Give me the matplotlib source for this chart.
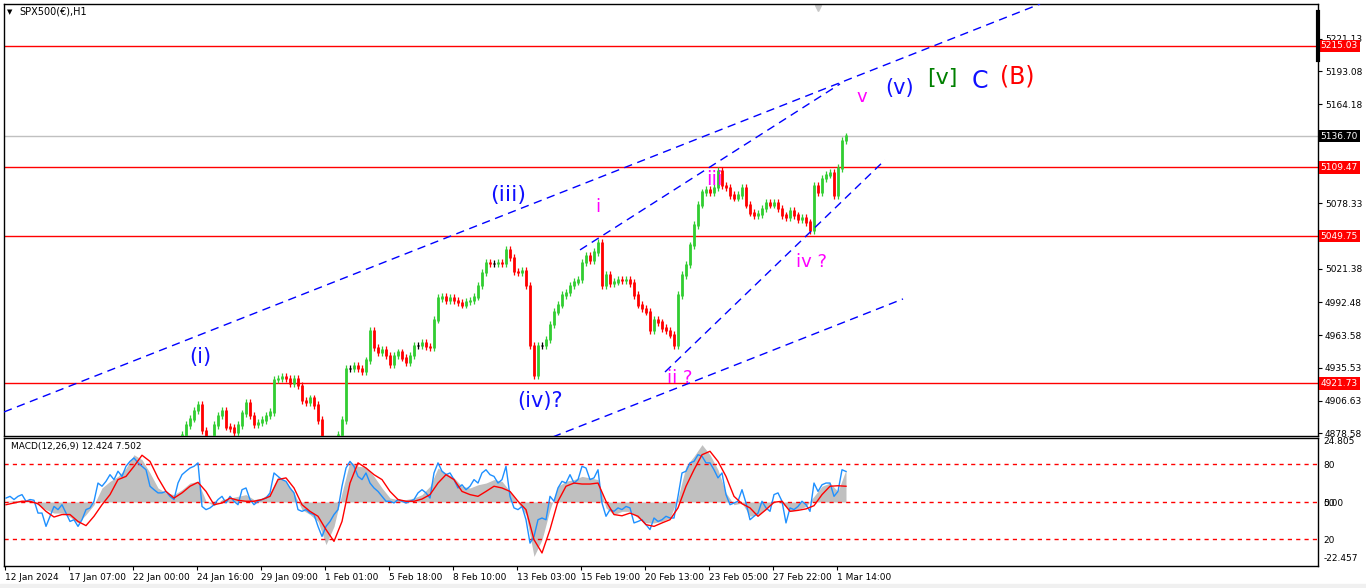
import matplotlib.pyplot as plt
from matplotlib.transforms import blended_transform_factory
from matplotlib.patches import Rectangle

# ---- data (H1 closes, one value per 4 hourly bars) ----
closes = [
    4790, 4792, 4795, 4793, 4790, 4788, 4784, 4786, 4790, 4788,
    4785, 4783, 4787, 4792, 4800, 4808, 4815, 4820, 4826, 4832,
    4836, 4840, 4846, 4850, 4848, 4842, 4838, 4836, 4838, 4842,
    4845, 4848, 4850, 4853, 4855, 4858, 4862, 4860, 4856, 4860,
    4864, 4866, 4868, 4872,
    4877, 4885.7, 4891, 4898, 4903, 4881, 4872, 4872, 4885.7, 4894,
    4898, 4884, 4883, 4879, 4885.7, 4896, 4905, 4894, 4886, 4888,
    4890, 4894, 4897, 4925, 4926, 4928, 4926, 4922, 4926, 4920,
    4907, 4905, 4909, 4903, 4890, 4872, 4868, 4868, 4872, 4877,
    4890, 4935, 4935, 4937, 4935, 4932, 4942, 4968, 4953, 4949,
    4951, 4946, 4938, 4946, 4949, 4944, 4940, 4946, 4955, 4955,
    4957, 4954, 4953, 4977, 4996, 4997, 4994, 4996, 4994, 4992,
    4990, 4993, 4994, 4997, 5007, 5018, 5027, 5026, 5026, 5027,
    5026, 5038, 5031, 5019, 5018, 5020, 5007, 4955, 4929, 4955,
    4955, 4960, 4973, 4984, 4990, 4998.6, 5001, 5007, 5010, 5012,
    5027, 5033, 5029, 5036, 5044, 5007, 5016, 5009, 5010, 5012,
    5011, 5012, 5009, 4998.6, 4990, 4987, 4984, 4968, 4977, 4975,
    4970, 4968, 4964, 4955, 4998.6, 5016, 5025, 5042, 5059.5, 5077,
    5088, 5090, 5088, 5092, 5107, 5094, 5092, 5085.5, 5083, 5085.5,
    5092, 5077, 5070, 5068, 5069, 5074, 5079, 5077, 5079, 5074,
    5068, 5066, 5072, 5068, 5064, 5066, 5062, 5055, 5094, 5088,
    5100, 5103, 5105, 5085.5, 5109, 5133, 5136.7,
]

macd_main = [
    1.6, 2.3, 1.0, 2.3, 3.0, 0.3, 1.0, 0.7, -4.5, -4.5,
    -9.9, -5.8, -1.8, -3.1, -1.1, -4.5, -7.9, -7.2, -9.9, -7.2,
    -3.1, -2.4, 0.3, 7.7, 6.4, 8.4, 11.1, 9.1, 12.5, 10.4,
    14.5, 16.5, 17.9, 15.9, 14.5, 13.1, 6.4, 5.0, 3.7, 3.7,
    4.3, 2.3, 1.0, 7.7, 11.1, 12.5, 13.8, 14.5, 15.9, -1.8,
    -3.1, -2.4, -1.1, 1.0, 2.3, -0.4, 2.3, 0.3, -1.1, 5.0,
    5.7, 1.0, -1.1, 0.3, 1.0, 1.6, 3.7, 11.8, 10.4, 9.1,
    8.4, 5.7, 3.7, -3.1, -3.8, -3.1, -4.5, -5.1, -9.9, -14.0,
    -9.9, -7.9, -5.1, -3.1, 6.4, 13.8, 16.5, 14.5, 10.4, 9.1,
    11.8, 7.7, 5.7, 4.3, 2.3, 0.3, 0.3, -0.4, 1.0, 0.3,
    -0.4, 0.3, 1.0, 3.7, 5.0, 3.7, 1.6, 11.8, 15.9, 12.5,
    11.1, 11.8,
    9.1, 5.7, 7.0, 5.0, 6.4, 9.1, 7.7, 11.8, 13.1, 11.1,
    10.4, 7.7, 9.1, 14.5, 2.3, -2.4, -3.1, -1.8, -7.2, -16.7,
    -14.0, -7.2, -6.5, -7.2, 2.3, 0.3, 5.7, 8.4, 7.7, 11.1,
    7.7, 9.1, 14.5, 13.8, 9.1, 9.8, 13.1, -0.4, -5.8, -3.1,
    -3.8, -2.4, -3.1, -1.8, -2.4, -8.5, -7.9, -7.2, -9.2, -11.2,
    -6.5, -7.9, -7.2, -5.8, -6.5, -6.5, 2.3, 11.8, 12.5, 15.9,
    16.5, 19.2, 18.6, 15.9, 15.9, 13.1, 9.8, 11.8, 3.0, -1.1,
    -0.4, 0.3, 5.0, -0.4, -7.2, -5.8, -4.5, 0.3, -2.4, -3.8,
    3.0, 3.7, 0.3, -8.5, -2.4, -3.1, -1.8, 0.3, -1.1, -3.8,
    7.7, 4.3, 7.0, 7.7, 7.7, 2.3, 4.3, 13.1, 12.4,
]

# histogram and signal, one value every second bar
macd_hist = [
    0.3, 0.5, 0.7, 0.3, -1.1, -3.1, -4.5, -4.5, -6.1, -8.5,
    -5.1, -1.1, 5.7, 8.4, 10.4, 13.8, 19.2, 17.2, 11.8, 5.7,
    3.7, 3.0, 5.0, 7.7, 8.4, 0.3, -1.5, 1.0, 1.6, 2.3,
    3.0, 1.0, 1.6, 3.7, 10.4, 8.4, 3.7, -3.1, -5.1, -7.9,
    -17.3, -9.9, 3.7, 16.5, 14.5, 14.2, 10.4, 5.7, 1.6, 1.0,
    1.0, 1.6, 3.0, 6.4, 13.8, 11.8,
    9.8, 6.4, 5.7, 7.0, 7.7, 9.1, 8.4, 4.3, -0.4, -5.1,
    -22.1, -15.3, -3.1, 6.4, 8.4, 9.1, 10.4, 9.8, 9.1, -2.4,
    -5.1, -3.8, -3.8, -6.5, -8.5, -8.5, -7.9, -6.5, 1.6, 14.5,
    18.6, 23.3, 19.2, 13.1, 3.7, -1.1, -0.4, -5.8, -5.1, -3.1,
    0.3, -0.4, -3.8, -3.1, -1.8, 2.3, 6.4, 7.7, 4.3, 13.1,
]

macd_signal = [
    -1.1, -0.4, 0.3, 0.3, -0.7, -3.8, -6.1, -5.1, -5.1, -7.9,
    -9.6, -5.8, -1.1, 3.0, 9.1, 10.4, 14.5, 19.0, 16.5, 9.8,
    4.3, 1.6, 3.7, 6.4, 8.0, 4.3, -1.1, -0.4, 1.6, 0.7,
    0.3, 0.3, 1.0, 2.3, 9.1, 9.8, 5.7, -1.1, -3.8, -5.8,
    -11.2, -16.0, -7.9, 7.7, 15.9, 13.8, 11.1, 9.1, 4.3, 1.0,
    0.3, 0.3, 1.2, 3.0, 7.7, 11.1,
    9.1, 4.3, 3.0, 2.3, 4.3, 6.4, 5.7, 4.3, 0.3, -3.1,
    -15.3, -20.7, -11.2, 0.3, 6.4, 7.7, 7.3, 7.3, 7.7, 0.3,
    -5.1, -5.6, -4.5, -5.8, -9.2, -9.9, -8.5, -7.2, -2.4, 6.4,
    13.1, 19.2, 20.6, 16.5, 10.4, 2.3, -0.7, -2.4, -5.8, -3.1,
    -0.1, 0.3, -3.8, -3.4, -2.8, -1.5, 3.0, 6.4, 6.6, 6.4,
]

time_labels = ["12 Jan 2024", "17 Jan 07:00", "22 Jan 00:00", "24 Jan 16:00",
               "29 Jan 09:00", "1 Feb 01:00", "5 Feb 18:00", "8 Feb 10:00",
               "13 Feb 03:00", "15 Feb 19:00", "20 Feb 13:00", "23 Feb 05:00",
               "27 Feb 22:00", "1 Mar 14:00"]
time_label_bars = [0, 16, 32, 48, 64, 80, 96, 112, 128, 144, 160, 176, 192, 208]

price_ticks = [5221.13, 5193.08, 5164.18, 5078.33, 5021.38, 4992.48,
               4963.58, 4935.53, 4906.63, 4878.58]
red_levels = [5215.03, 5109.47, 5049.75, 4921.73]
last_price = 5136.70

# trend lines: (bar, price) -> (bar, price)
trend_lines = [
    ((0, 4897.0), (259, 5251.5)),
    ((134, 4870.9), (224.75, 4995.2)),
    ((144, 5037.8), (209, 5182.0)),
    ((165.25, 4931.7), (220.25, 5116.0)),
]

# wave labels: text, bar, price, colour, size
wave_labels = [
    ("(i)", 49, 4944.8, "#1010ff", 15),
    ("(iii)", 126, 5085.5, "#1010ff", 16),
    ("(iv)?", 134, 4906.5, "#1010ff", 15),
    ("i", 148.5, 5075.0, "#ff00ff", 13),
    ("iii", 177.5, 5099.4, "#ff00ff", 14),
    ("ii ?", 169, 4926.5, "#ff00ff", 13),
    ("iv ?", 201.75, 5027.3, "#ff00ff", 13),
    ("v", 214.5, 5170.7, "#ff00ff", 13),
    ("(v)", 224, 5178.5, "#1010ff", 15),
    ("[v]", 234.5, 5187.2, "#008000", 16),
    ("C", 244, 5184.6, "#1010ff", 17),
    ("(B)", 253.25, 5188.1, "#ff0000", 17),
]

# ---- figure ----
W, H = 1366, 588
fig = plt.figure(figsize=(W / 100, H / 100), dpi=100)
fig.patches.append(Rectangle((0, 0), 1, 4 / H, transform=fig.transFigure,
                             color="#f0f0f0", zorder=0))

ax = fig.add_axes([4 / W, 1 - 436 / H, 1314 / W, 432 / H])
ax2 = fig.add_axes([4 / W, 1 - 566 / H, 1314 / W, 128 / H])

# candles: thick body from open to close, thin wick a bit beyond
xs, body_lo, body_hi, cols = [], [], [], []
for i, c in enumerate(closes):
    o = closes[i - 1] if i > 0 else c
    xs.append(i + 0.5)
    body_lo.append(min(o, c) - 0.6)
    body_hi.append(max(o, c) + 0.6)
    cols.append("#32cd32" if c > o else ("#ff0000" if c < o else "#000000"))
ax.vlines(xs, [b - 2.5 for b in body_lo], [b + 2.5 for b in body_hi],
          colors=cols, lw=0.9, zorder=3)
ax.vlines(xs, body_lo, body_hi, colors=cols, lw=2.0, zorder=3)

for lvl in red_levels:
    ax.axhline(lvl, color="red", lw=1, zorder=2)
ax.axhline(last_price, color="#c0c0c0", lw=1, zorder=1)

for (x0, y0), (x1, y1) in trend_lines:
    ax.plot([x0, x1], [y0, y1], color="#0000ff", lw=1, ls=(0, (6, 4)), zorder=4)

for txt, bx, py, col, sz in wave_labels:
    ax.text(bx, py, txt, color=col, fontsize=sz, ha="center", va="center", zorder=5)

ax.set_xlim(0, 328.5)
ax.set_ylim(4876.1, 5251.5)
ax.set_xticks([])
ax.yaxis.tick_right()
ax.set_yticks(price_ticks)
ax.set_yticklabels([f"{p:.2f}" for p in price_ticks])
ax.tick_params(axis="y", labelsize=6.5, length=3, pad=2, width=0.8)

trans = blended_transform_factory(ax.transAxes, ax.transData)
for lvl in red_levels:
    ax.text(1.002, lvl, f"{lvl:.2f}", transform=trans, color="white", fontsize=6.5,
            va="center", ha="left", zorder=10, clip_on=False,
            bbox=dict(boxstyle="square,pad=0.2", fc="red", ec="none"))
ax.text(1.002, last_price, f"{last_price:.2f}", transform=trans, color="white",
        fontsize=6.5, va="center", ha="left", zorder=10, clip_on=False,
        bbox=dict(boxstyle="square,pad=0.2", fc="black", ec="none"))
ax.plot([1, 1], [0.870, 0.981], transform=ax.transAxes, color="black", lw=3,
        clip_on=False, zorder=11)
ax.plot([203.5], [0.99], marker="v", color="#c8c8c8", markersize=5,
        transform=blended_transform_factory(ax.transData, ax.transAxes), clip_on=False)

fig.text(7 / W, 1 - 12 / H, "▼", fontsize=5, va="center")
fig.text(19 / W, 1 - 12 / H, "SPX500(€),H1", fontsize=7, va="center")

# ---- MACD panel ----
xb = [i + 0.5 for i in range(len(macd_main))]
xg = [2 * k + 0.5 for k in range(len(macd_hist))]
ax2.fill_between(xg, 0, macd_hist, color="#c0c0c0", lw=0, zorder=1)
for lvl in (15.3, 0, -15.2):
    ax2.axhline(lvl, color="red", lw=1, ls=(0, (3, 3)), zorder=2)
ax2.plot(xb, macd_main, color="#1e90ff", lw=1, zorder=3)
ax2.plot(xg, macd_signal, color="red", lw=1, zorder=4)
ax2.set_xlim(0, 328.5)
ax2.set_ylim(-26, 26)
ax2.yaxis.tick_right()
ax2.set_yticks([24.805, 15.3, 0, -15.2, -22.457])
ax2.set_yticklabels(["24.805", "80", "50", "20", "-22.457"])
ax2.tick_params(axis="y", labelsize=6.5, length=0, pad=4)
ax2.text(1.004, -0.8, "0.00", transform=blended_transform_factory(ax2.transAxes, ax2.transData),
         fontsize=6.5, va="center", ha="left", clip_on=False)
ax2.text(0.005, 0.93, "MACD(12,26,9) 12.424 7.502", transform=ax2.transAxes,
         fontsize=6.5, va="center", ha="left")

ax2.set_xticks([b + 0.25 for b in time_label_bars])
ax2.set_xticklabels(time_labels)
ax2.tick_params(axis="x", labelsize=6.5, length=3, pad=2, width=0.8)
for lab in ax2.get_xticklabels():
    lab.set_horizontalalignment("left")

for a in (ax, ax2):
    for s in a.spines.values():
        s.set_color("black")
        s.set_linewidth(1)

fig.savefig("out.png", dpi=100)
